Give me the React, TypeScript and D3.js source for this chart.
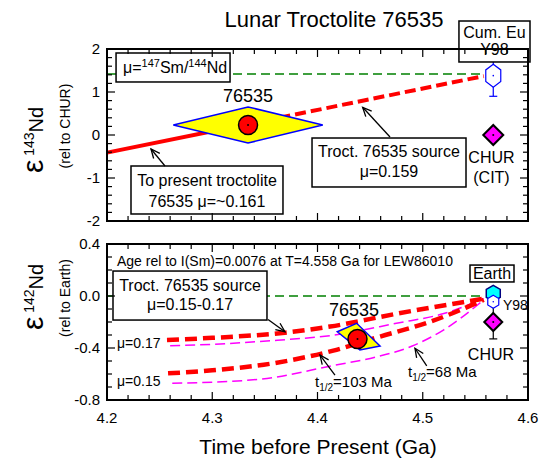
import { useRef, useEffect } from "react";
import * as d3 from "d3";

const WIDTH = 542;
const HEIGHT = 459;
const FONT = "'Liberation Sans', Arial, Helvetica, sans-serif";

// time axis, Ga before present
const timeTicks = [4.2, 4.3, 4.4, 4.5, 4.6];

// upper panel: eps 143Nd rel to CHUR
const eps143Ticks = [-2, -1, 0, 1, 2];
const toPresentLine = [[4.2, -0.41], [4.334, 0.255]]; // solid, mu ~0.161
const sourceLine = [[4.334, 0.255], [4.558, 1.37]]; // dashed, mu 0.159
const cumEuLevel = [[4.2, 1.42], [4.558, 1.42]];
const troct143 = { t: 4.334, dt: 0.071, e: 0.233, de: 0.42 };
const cumEu = { t: 4.567, e: 1.38, de: 0.48 };
const chur143 = { t: 4.567, e: 0 };

// lower panel: eps 142Nd rel to Earth
const eps142Ticks = [-0.8, -0.4, 0, 0.4];
const earthLevel = [[4.2, 0], [4.558, 0]];
const mu017Half103 = [[4.257, -0.338], [4.3, -0.322], [4.369, -0.282], [4.412, -0.235], [4.476, -0.135], [4.558, -0.02]];
const mu017Half68 = [[4.26, -0.382], [4.3, -0.372], [4.362, -0.34], [4.412, -0.305], [4.475, -0.21], [4.52, -0.135], [4.558, -0.02]];
const mu015Half103 = [[4.258, -0.595], [4.3, -0.572], [4.36, -0.515], [4.415, -0.42], [4.459, -0.313], [4.507, -0.198], [4.558, -0.03]];
const mu015Half68 = [[4.262, -0.672], [4.345, -0.64], [4.415, -0.535], [4.455, -0.47], [4.49, -0.385], [4.52, -0.26], [4.558, -0.03]];
const troct142 = { t: 4.438, e: -0.331 };
const troct142Err = [[4.4188, -0.275], [4.4372, -0.21], [4.4594, -0.385], [4.4403, -0.415]];
const earth = { t: 4.567, e: 0.02 };
const y98 = { t: 4.567, e: -0.044 };
const chur142 = { t: 4.567, e: -0.2, de: 0.13 };

const fmt1 = (v) => d3.format(".1f")(v).replace("\u2212", "-");

export default function App() {
  const ref = useRef(null);

  useEffect(() => {
    const svg = d3.select(ref.current);
    svg.selectAll("*").remove();

    const x = d3.scaleLinear([4.2, 4.6], [107, 528]);
    const yTop = d3.scaleLinear([-2, 2], [221, 49]);
    const yBot = d3.scaleLinear([-0.8, 0.4], [400, 244]);

    svg
      .append("defs")
      .append("marker")
      .attr("id", "ahead")
      .attr("viewBox", "-10 -5 12 10")
      .attr("refX", 0)
      .attr("refY", 0)
      .attr("markerWidth", 12)
      .attr("markerHeight", 10)
      .attr("markerUnits", "userSpaceOnUse")
      .attr("orient", "auto")
      .append("path")
      .attr("d", "M-9,-4 L0,0 L-9,4")
      .attr("fill", "none")
      .attr("stroke", "#000")
      .attr("stroke-width", 1.3);

    const root = svg.append("g").attr("font-family", FONT).attr("fill", "#000");

    const line = (y, curve = d3.curveLinear) =>
      d3.line().x((d) => x(d[0])).y((d) => y(d[1])).curve(curve);

    const box = (g, y, t0, t1, e0, e1) =>
      g
        .append("rect")
        .attr("x", x(t0))
        .attr("y", y(e0))
        .attr("width", x(t1) - x(t0))
        .attr("height", y(e1) - y(e0))
        .attr("fill", "#fff")
        .attr("stroke", "#000")
        .attr("stroke-width", 1.5);

    const text = (g, y, t, e, str, size, anchor = "middle") =>
      g
        .append("text")
        .attr("x", x(t))
        .attr("y", y(e))
        .attr("font-size", size)
        .attr("text-anchor", anchor)
        .text(str);

    const arrow = (g, y, from, to) =>
      g
        .append("line")
        .attr("x1", x(from[0]))
        .attr("y1", y(from[1]))
        .attr("x2", x(to[0]))
        .attr("y2", y(to[1]))
        .attr("stroke", "#000")
        .attr("stroke-width", 1.3)
        .attr("marker-end", "url(#ahead)");

    const hexPath = (cx, cy, w, h) =>
      `M${cx},${cy - h}L${cx + w},${cy - h / 2}L${cx + w},${cy + h / 2}L${cx},${cy + h}L${cx - w},${cy + h / 2}L${cx - w},${cy - h / 2}Z`;

    const diamondPath = (cx, cy, r) => `M${cx},${cy - r}L${cx + r},${cy}L${cx},${cy + r}L${cx - r},${cy}Z`;

    const frame = (g, y, yStep, yMajor) => {
      const [xl, xr] = x.range();
      const [yb, yt] = y.range();
      const xs = d3.range(0, 21).map((i) => 4.2 + i * 0.02);
      const [d0, d1] = y.domain();
      const n = Math.round((d1 - d0) / yStep);
      const ys = d3.range(0, n + 1).map((i) => d0 + i * yStep);
      const isMajor = (v, step) => Math.abs(v / step - Math.round(v / step)) < 1e-6;
      const tg = g.append("g").attr("stroke", "#000").attr("stroke-width", 1.2);
      xs.forEach((v) => {
        const len = isMajor(v, 0.1) ? 8 : 5;
        tg.append("line").attr("x1", x(v)).attr("x2", x(v)).attr("y1", yb).attr("y2", yb - len);
        tg.append("line").attr("x1", x(v)).attr("x2", x(v)).attr("y1", yt).attr("y2", yt + len);
      });
      ys.forEach((v) => {
        const len = isMajor(v, yMajor) ? 8 : 5;
        tg.append("line").attr("x1", xl).attr("x2", xl + len).attr("y1", y(v)).attr("y2", y(v));
        tg.append("line").attr("x1", xr).attr("x2", xr - len).attr("y1", y(v)).attr("y2", y(v));
      });
      g.append("rect")
        .attr("x", xl)
        .attr("y", yt)
        .attr("width", xr - xl)
        .attr("height", yb - yt)
        .attr("fill", "none")
        .attr("stroke", "#000")
        .attr("stroke-width", 2);
    };

    // title
    root.append("text").attr("x", 334).attr("y", 27).attr("font-size", 22).attr("text-anchor", "middle").text("Lunar Troctolite 76535");

    // ---------- upper panel
    const top = root.append("g");
    top.append("path").datum(cumEuLevel).attr("d", line(yTop)).attr("fill", "none")
      .attr("stroke", "#008000").attr("stroke-width", 1.5).attr("stroke-dasharray", "9,5");
    top.append("path").datum(toPresentLine).attr("d", line(yTop)).attr("fill", "none")
      .attr("stroke", "#ff0000").attr("stroke-width", 4);
    top.append("path").datum(sourceLine).attr("d", line(yTop)).attr("fill", "none")
      .attr("stroke", "#ff0000").attr("stroke-width", 4).attr("stroke-dasharray", "11,5");

    const tp = troct143;
    top.append("path")
      .attr("d", `M${x(tp.t - tp.dt)},${yTop(tp.e)}L${x(tp.t)},${yTop(tp.e + tp.de)}L${x(tp.t + tp.dt)},${yTop(tp.e)}L${x(tp.t)},${yTop(tp.e - tp.de)}Z`)
      .attr("fill", "#ffff00").attr("stroke", "#0000ff").attr("stroke-width", 1.5);
    top.append("circle").attr("cx", x(tp.t)).attr("cy", yTop(tp.e)).attr("r", 9.5)
      .attr("fill", "#ff0000").attr("stroke", "#000").attr("stroke-width", 1.5);
    top.append("circle").attr("cx", x(tp.t)).attr("cy", yTop(tp.e)).attr("r", 1).attr("fill", "#000");

    // Cum Eu (Y98)
    const cx = x(cumEu.t);
    top.append("line").attr("x1", cx).attr("x2", cx).attr("y1", yTop(cumEu.e - cumEu.de)).attr("y2", yTop(cumEu.e + cumEu.de))
      .attr("stroke", "#0000ff").attr("stroke-width", 1.2);
    top.append("line").attr("x1", cx - 4).attr("x2", cx + 4).attr("y1", yTop(cumEu.e - cumEu.de)).attr("y2", yTop(cumEu.e - cumEu.de))
      .attr("stroke", "#0000ff").attr("stroke-width", 1.2);
    top.append("path").attr("d", hexPath(cx, yTop(cumEu.e), 7.5, 11.5)).attr("fill", "#fff").attr("stroke", "#0000ff").attr("stroke-width", 1.2);
    top.append("circle").attr("cx", cx).attr("cy", yTop(cumEu.e)).attr("r", 0.8).attr("fill", "#0000ff");

    // CHUR
    top.append("path").attr("d", diamondPath(x(chur143.t), yTop(chur143.e), 10)).attr("fill", "#ff00ff").attr("stroke", "#000").attr("stroke-width", 2);
    top.append("circle").attr("cx", x(chur143.t)).attr("cy", yTop(chur143.e)).attr("r", 1).attr("fill", "#000");
    text(top, yTop, 4.5653, -0.651, "CHUR", 16);
    text(top, yTop, 4.5653, -1.116, "(CIT)", 16);

    text(top, yTop, tp.t, 0.767, "76535", 18);

    // annotation boxes
    box(top, yTop, 4.2086, 4.3169, 1.907, 1.233);
    const mu = top.append("text").attr("x", x(4.2152)).attr("y", yTop(1.442)).attr("font-size", 16);
    mu.append("tspan").text("\u03bc=");
    mu.append("tspan").attr("font-size", 11).attr("dy", -6).text("147");
    mu.append("tspan").attr("dy", 6).text("Sm/");
    mu.append("tspan").attr("font-size", 11).attr("dy", -6).text("144");
    mu.append("tspan").attr("dy", 6).text("Nd");

    box(top, yTop, 4.2228, 4.3672, -0.721, -1.837);
    text(top, yTop, 4.295, -1.186, "To present troctolite", 16);
    text(top, yTop, 4.295, -1.674, "76535 \u03bc=~0.161", 16);
    arrow(top, yTop, [4.2551, -0.721], [4.2418, -0.326]);

    box(top, yTop, 4.3948, 4.5411, -0.07, -1.209);
    text(top, yTop, 4.4679, -0.512, "Troct. 76535 source", 16);
    text(top, yTop, 4.4679, -0.977, "\u03bc=0.159", 16);
    arrow(top, yTop, [4.4689, -0.047], [4.4429, 0.644]);

    box(top, yTop, 4.5344, 4.6019, 2.651, 1.698);
    text(top, yTop, 4.5681, 2.256, "Cum. Eu", 16);
    text(top, yTop, 4.5681, 1.86, "Y98", 16);

    frame(top, yTop, 0.2, 1);
    eps143Ticks.forEach((v) =>
      top.append("text").attr("x", 100).attr("y", yTop(v)).attr("dy", "0.36em").attr("font-size", 15)
        .attr("text-anchor", "end").text(String(v))
    );

    // ---------- lower panel
    const bot = root.append("g");
    bot.append("path").datum(earthLevel).attr("d", line(yBot)).attr("fill", "none")
      .attr("stroke", "#008000").attr("stroke-width", 1.5).attr("stroke-dasharray", "9,5");
    [mu017Half68, mu015Half68].forEach((s) =>
      bot.append("path").datum(s).attr("d", line(yBot, d3.curveMonotoneX)).attr("fill", "none")
        .attr("stroke", "#ff00ff").attr("stroke-width", 1.5).attr("stroke-dasharray", "10,5")
    );
    [mu017Half103, mu015Half103].forEach((s) =>
      bot.append("path").datum(s).attr("d", line(yBot, d3.curveMonotoneX)).attr("fill", "none")
        .attr("stroke", "#ff0000").attr("stroke-width", 4.5).attr("stroke-dasharray", "12,6")
    );

    bot.append("path").datum(troct142Err).attr("d", (d) => line(yBot)(d) + "Z")
      .attr("fill", "#ffff00").attr("stroke", "#0000ff").attr("stroke-width", 1.5);
    bot.append("circle").attr("cx", x(troct142.t)).attr("cy", yBot(troct142.e)).attr("r", 9.5)
      .attr("fill", "#ff0000").attr("stroke", "#000").attr("stroke-width", 1.5);
    bot.append("circle").attr("cx", x(troct142.t)).attr("cy", yBot(troct142.e)).attr("r", 1).attr("fill", "#000");

    // Earth, Y98, CHUR
    const ex = x(earth.t);
    bot.append("line").attr("x1", ex).attr("x2", ex).attr("y1", yBot(chur142.e - chur142.de)).attr("y2", yBot(chur142.e + chur142.de))
      .attr("stroke", "#000").attr("stroke-width", 1.2);
    bot.append("line").attr("x1", ex - 4).attr("x2", ex + 4).attr("y1", yBot(chur142.e - chur142.de)).attr("y2", yBot(chur142.e - chur142.de))
      .attr("stroke", "#000").attr("stroke-width", 1.2);
    bot.append("path").attr("d", hexPath(ex, yBot(earth.e), 7, 8)).attr("fill", "#00ffff").attr("stroke", "#000080").attr("stroke-width", 1.5);
    bot.append("path").attr("d", hexPath(x(y98.t), yBot(y98.e), 5.5, 6.5)).attr("fill", "#fff").attr("stroke", "#0000ff").attr("stroke-width", 1.2);
    bot.append("circle").attr("cx", x(y98.t)).attr("cy", yBot(y98.e)).attr("r", 0.8).attr("fill", "#0000ff");
    bot.append("path").attr("d", diamondPath(x(chur142.t), yBot(chur142.e), 9)).attr("fill", "#ff00ff").attr("stroke", "#000").attr("stroke-width", 2);
    bot.append("circle").attr("cx", x(chur142.t)).attr("cy", yBot(chur142.e)).attr("r", 1).attr("fill", "#000");
    text(bot, yBot, 4.5762, -0.108, "Y98", 14, "start");
    text(bot, yBot, 4.5648, -0.492, "CHUR", 16);

    box(bot, yBot, 4.5449, 4.5867, 0.238, 0.108);
    text(bot, yBot, 4.5658, 0.131, "Earth", 16);

    text(bot, yBot, 4.2095, 0.231, "Age rel to I(Sm)=0.0076 at T=4.558 Ga for LEW86010", 14, "start");
    text(bot, yBot, 4.4347, -0.154, "76535", 18);
    text(bot, yBot, 4.2095, -0.4, "\u03bc=0.17", 14, "start");
    text(bot, yBot, 4.2095, -0.692, "\u03bc=0.15", 14, "start");

    box(bot, yBot, 4.2057, 4.352, 0.192, -0.185);
    text(bot, yBot, 4.2789, 0.038, "Troct. 76535 source", 16);
    text(bot, yBot, 4.2789, -0.108, "\u03bc=0.15-0.17", 16);
    arrow(bot, yBot, [4.353, -0.181], [4.3691, -0.275]);

    const half = (t, e, val) => {
      const tt = bot.append("text").attr("x", x(t)).attr("y", yBot(e)).attr("font-size", 15);
      tt.append("tspan").text("t");
      tt.append("tspan").attr("font-size", 10).attr("dy", 4).text("1/2");
      tt.append("tspan").attr("dy", -4).text(val);
    };
    half(4.3976, -0.7, "=103 Ma");
    arrow(bot, yBot, [4.4166, -0.608], [4.4024, -0.454]);
    half(4.486, -0.623, "=68 Ma");
    arrow(bot, yBot, [4.5038, -0.538], [4.4926, -0.402]);

    frame(bot, yBot, 0.1, 0.4);
    eps142Ticks.forEach((v) =>
      bot.append("text").attr("x", 100).attr("y", yBot(v)).attr("dy", "0.36em").attr("font-size", 15)
        .attr("text-anchor", "end").text(fmt1(v))
    );

    // x axis labels
    timeTicks.forEach((v) =>
      root.append("text").attr("x", x(v)).attr("y", 423).attr("font-size", 15).attr("text-anchor", "middle").text(fmt1(v))
    );
    root.append("text").attr("x", 318).attr("y", 454).attr("font-size", 21).attr("text-anchor", "middle").text("Time before Present (Ga)");

    // y axis titles
    const yTitle = (cy, iso, sub, subCy) => {
      const t = root.append("text").attr("transform", `translate(43,${cy}) rotate(-90)`).attr("text-anchor", "middle");
      t.append("tspan").attr("font-size", 30).text("\u03b5");
      t.append("tspan").attr("font-size", 14).attr("dy", -9).text(" " + iso);
      t.append("tspan").attr("font-size", 20).attr("dy", 9).text("Nd");
      root.append("text").attr("transform", `translate(70,${subCy}) rotate(-90)`).attr("text-anchor", "middle")
        .attr("font-size", 14).text(sub);
    };
    yTitle(140, "143", "(rel to CHUR)", 126);
    yTitle(297, "142", "(rel to Earth)", 298);
  }, []);

  return (
    <svg
      ref={ref}
      width={WIDTH}
      height={HEIGHT}
      style={{ position: "absolute", left: 0, top: 0, background: "#fff" }}
    />
  );
}
